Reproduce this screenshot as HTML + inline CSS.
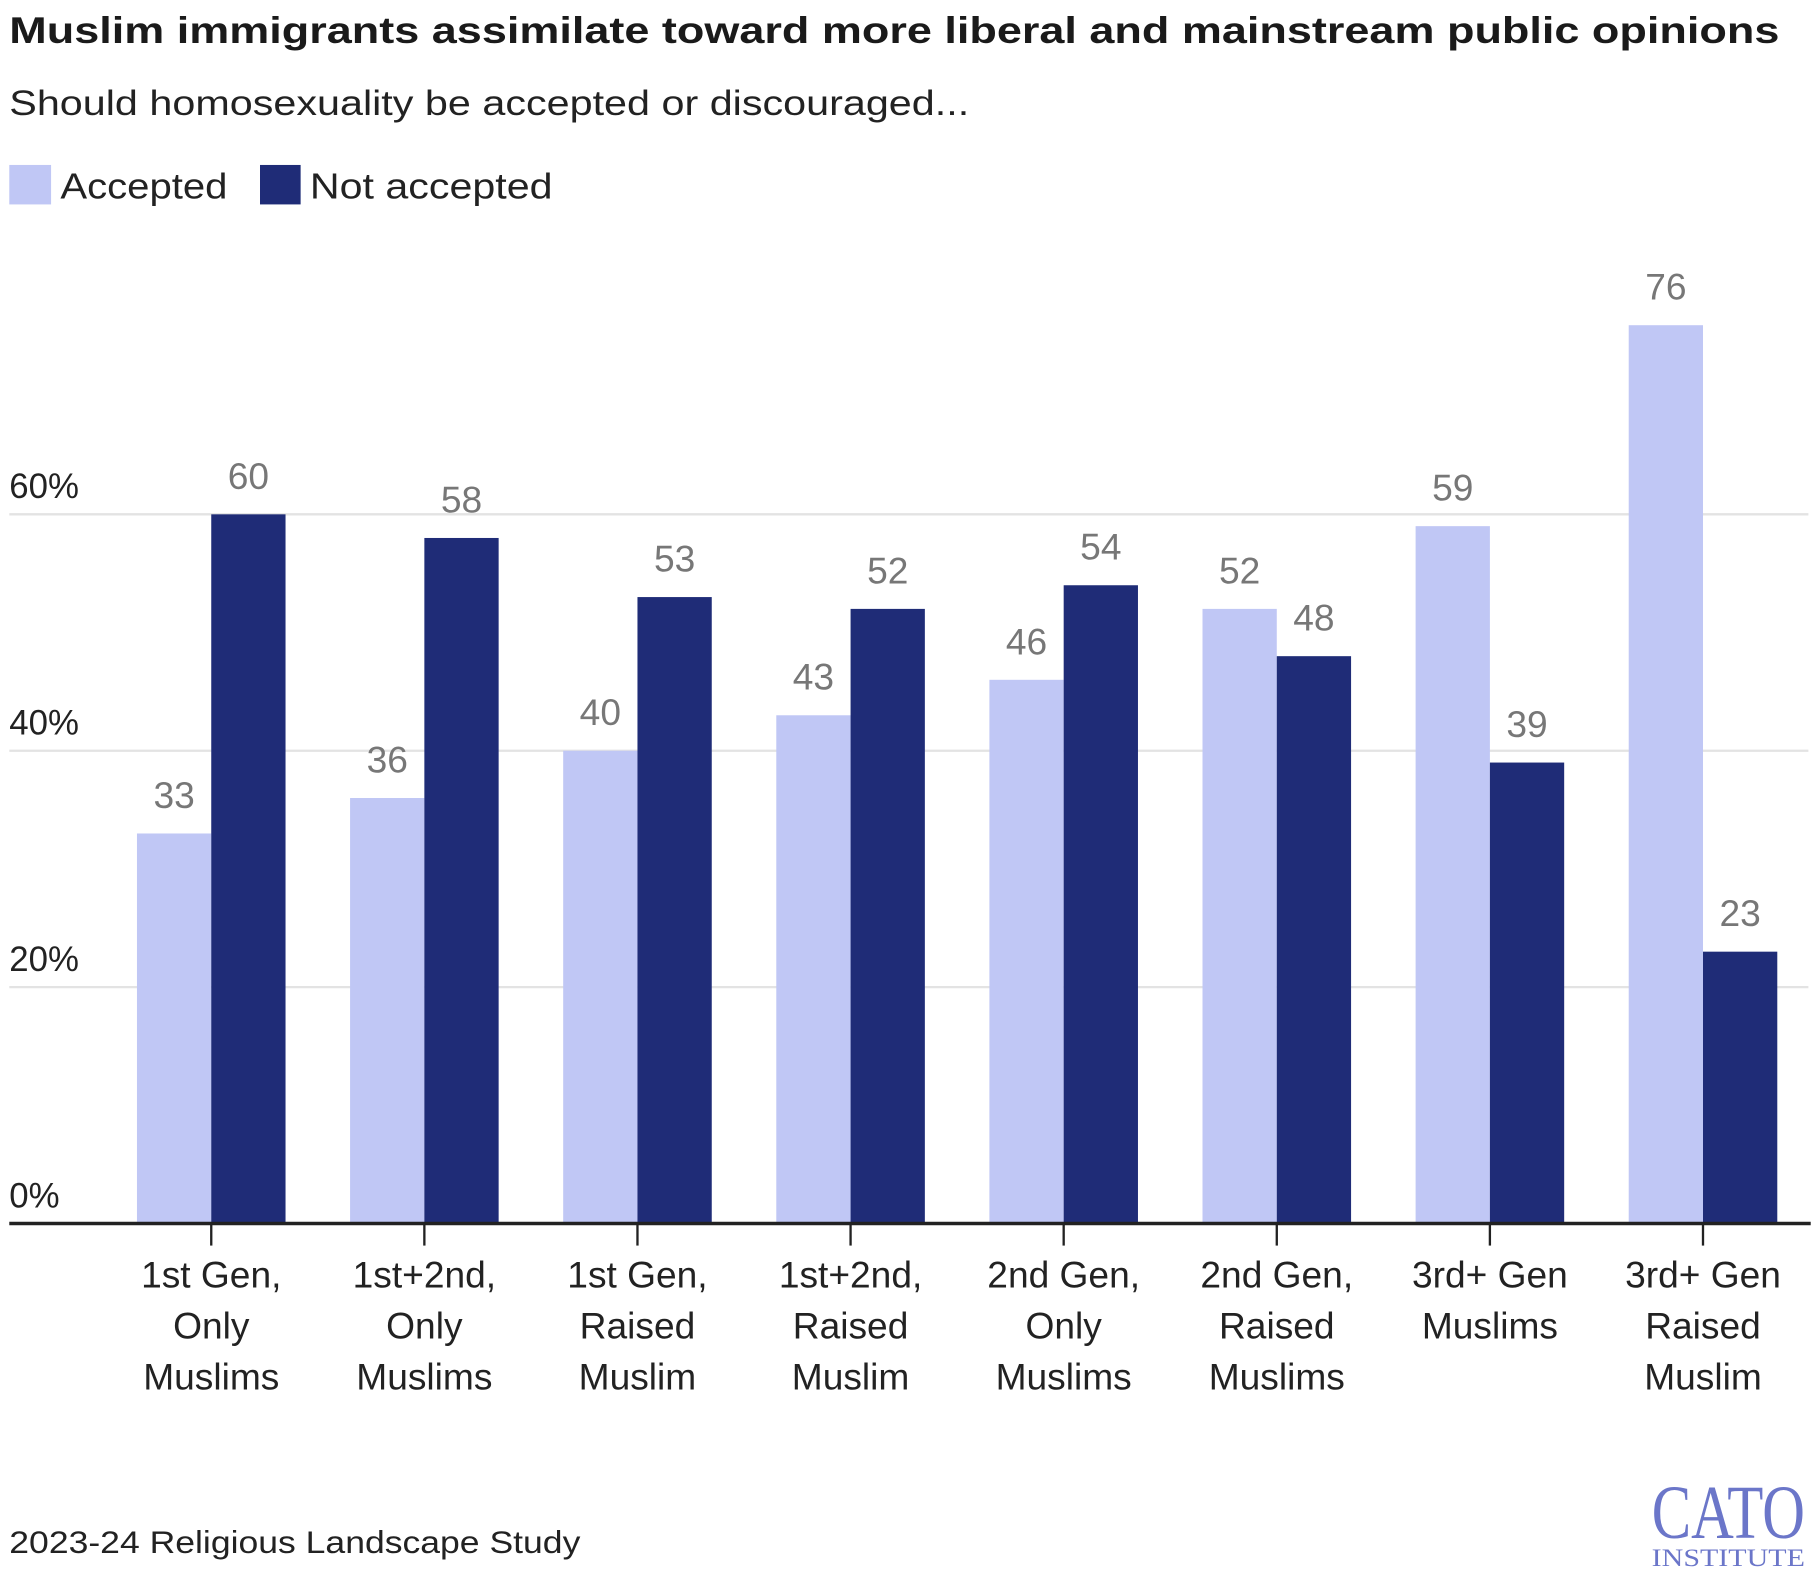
<!DOCTYPE html>
<html><head><meta charset="utf-8"><style>
html,body{margin:0;padding:0;background:#fff}
svg{display:block}
text{font-family:"Liberation Sans",sans-serif}
</style></head><body>
<svg id="chart" width="1820" height="1580" viewBox="0 0 1568 1361">
<text x="8" y="37" font-size="32" font-weight="bold" fill="#1a1a1a" textLength="1525" lengthAdjust="spacingAndGlyphs">Muslim immigrants assimilate toward more liberal and mainstream public opinions</text>
<text x="8" y="99" font-size="30" fill="#222" textLength="827" lengthAdjust="spacingAndGlyphs">Should homosexuality be accepted or discouraged...</text>
<g>
<rect x="8" y="142" width="36" height="34" fill="#c0c7f5"/>
<text x="52" y="171" font-size="31" fill="#222" textLength="144" lengthAdjust="spacingAndGlyphs">Accepted</text>
<rect x="224" y="142" width="35" height="34" fill="#1f2c77"/>
<text x="267" y="171" font-size="31" fill="#222" textLength="209" lengthAdjust="spacingAndGlyphs">Not accepted</text>
</g>
<g id="grid"></g><g id="bars"></g><g id="xaxis"></g>
<text x="8" y="1338" font-size="27" fill="#222" textLength="492" lengthAdjust="spacingAndGlyphs">2023-24 Religious Landscape Study</text>
<g>
<text x="1489" y="1325" style="font-family:'Liberation Serif',serif" font-size="66" fill="#6b76c9" text-anchor="middle" textLength="132" lengthAdjust="spacingAndGlyphs">CATO</text>
<text x="1489" y="1349" style="font-family:'Liberation Serif',serif" font-size="22" fill="#6b76c9" text-anchor="middle" textLength="132" lengthAdjust="spacingAndGlyphs">INSTITUTE</text>
</g>
</svg>
<script>
const categories=[["1st Gen,","Only","Muslims"],["1st+2nd,","Only","Muslims"],["1st Gen,","Raised","Muslim"],["1st+2nd,","Raised","Muslim"],["2nd Gen,","Only","Muslims"],["2nd Gen,","Raised","Muslims"],["3rd+ Gen","Muslims"],["3rd+ Gen","Raised","Muslim"]];
const accepted=[33,36,40,43,46,52,59,76];
const notAccepted=[60,58,53,52,54,48,39,23];
const yTicks=[0,20,40,60];
const yTickLabels=["0%","20%","40%","60%"];
const NS="http://www.w3.org/2000/svg";
const y0=1054,pxPer=(1054-443)/60;
function y(v){return y0-v*pxPer;}
function xc(i){return 182+i*183.6;}
function mk(t,a,p){const e=document.createElementNS(NS,t);for(const k in a)e.setAttribute(k,a[k]);p.appendChild(e);return e;}
const grid=document.getElementById('grid'),bars=document.getElementById('bars'),xa=document.getElementById('xaxis');
yTicks.forEach((v,i)=>{
 if(v>0){const l=mk('line',{x1:8,x2:1558,y1:y(v),y2:y(v),stroke:'#e3e3e3','stroke-width':2},grid);
 
 }
 const t=mk('text',{x:8,y:y(v)-14,'font-size':30,fill:'#222'},grid);t.textContent=yTickLabels[i];
 
 
});
const bw=64;
function drawSeries(vals,off,color,name){
 vals.forEach((v,i)=>{
  const r=mk('rect',{x:xc(i)+off,y:y(v),width:bw,height:y0-y(v),fill:color},bars);
  
  
  const t=mk('text',{x:xc(i)+off+bw/2,y:y(v)-22,'font-size':32,fill:'#777','text-anchor':'middle'},bars);t.textContent=v;
  
  
 });
}
drawSeries(accepted,-bw,'#c0c7f5','accepted');
drawSeries(notAccepted,0,'#1f2c77','not-accepted');
const ax=mk('line',{x1:8,x2:1560,y1:y0,y2:y0,stroke:'#222','stroke-width':3},xa);


categories.forEach((c,i)=>{
 const tk=mk('line',{x1:xc(i),x2:xc(i),y1:y0,y2:1073,stroke:'#222','stroke-width':2},xa);
 
 
 const t=mk('text',{x:xc(i),y:1109,'font-size':32,fill:'#222','text-anchor':'middle'},xa);
 
 
 c.forEach((ln,j)=>{const s=mk('tspan',{x:xc(i),dy:j?44:0},t);s.textContent=ln;});
});
</script>
</body></html>
